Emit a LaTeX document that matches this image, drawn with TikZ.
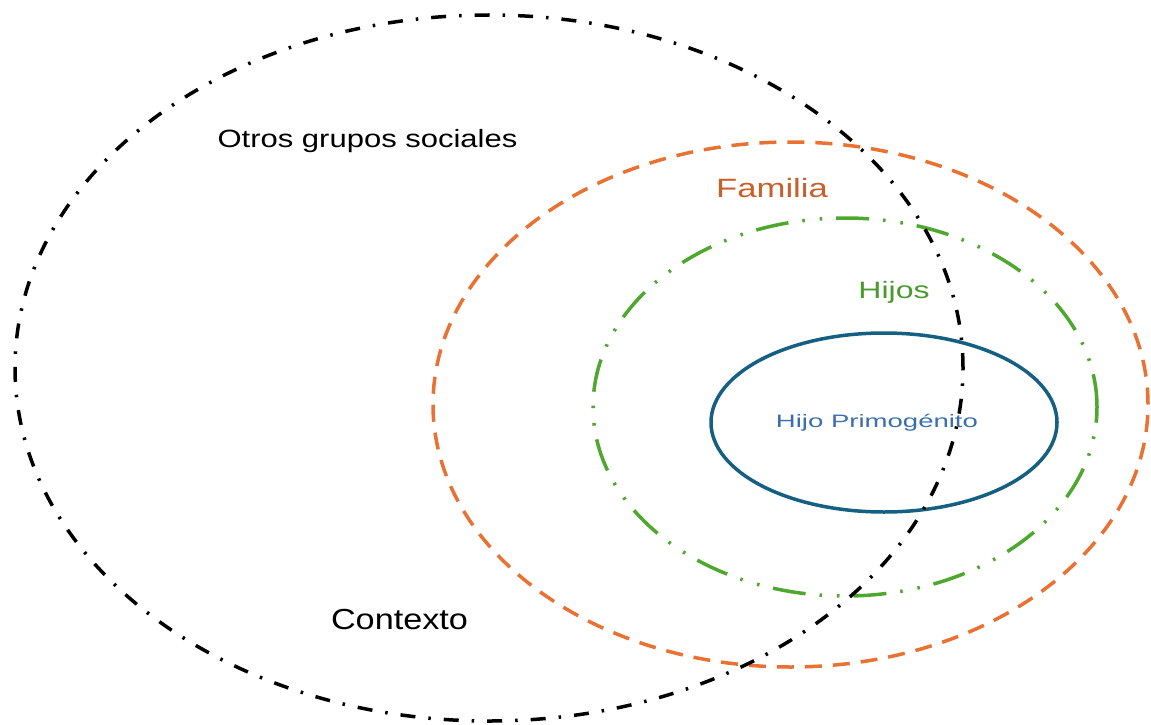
\documentclass[tikz,border=0pt]{standalone}
\usepackage{fontspec}
\setmainfont{Liberation Sans}
\definecolor{ctxblack}{HTML}{000000}
\definecolor{famorange}{HTML}{E97132}
\definecolor{famtext}{HTML}{C8602C}
\definecolor{hijgreen}{HTML}{4EA72E}
\definecolor{hijtext}{HTML}{4A9A30}
\definecolor{primblue}{HTML}{156082}
\definecolor{primtext}{HTML}{3A6EAE}
\tikzset{
  ring/.style={line width=3.5pt},
  ctxring/.style={ring, draw=ctxblack, dash pattern=on 15pt off 13pt on 2.5pt off 13pt},
  famring/.style={ring, draw=famorange, dash pattern=on 17pt off 11pt},
  hijring/.style={ring, draw=hijgreen, dash pattern=on 33pt off 14pt on 2.5pt off 15pt on 2.5pt off 14pt},
  primring/.style={ring, draw=primblue},
  lbl/.style={inner sep=0pt, anchor=base},
}
\begin{document}
\begin{tikzpicture}[x=1pt,y=-1pt]
\useasboundingbox (0,0) rectangle (1151,725);
\fill[white] (0,0) rectangle (1151,725);
% rings
\draw[famring] (790.5,404.5) ellipse [x radius=357.5pt, y radius=262.5pt];
\draw[hijring] (845,407) ellipse [x radius=252pt, y radius=189pt];
\draw[primring] (884,422.5) ellipse [x radius=173pt, y radius=89.5pt];
% labels
\node[lbl, text=black] (otros) at (367.5,147) {\fontsize{25}{30}\selectfont\scalebox{1.24}[1]{Otros grupos sociales}};
\node[lbl, text=famtext] (familia) at (772,197) {\fontsize{26.5}{32}\selectfont\scalebox{1.31}[1]{Familia}};
\node[lbl, text=hijtext] (hijos) at (894,298) {\fontsize{23.7}{28}\selectfont\scalebox{1.35}[1]{Hijos}};
\node[lbl, text=primtext] (primogenito) at (877,427) {\fontsize{18}{22}\selectfont\scalebox{1.53}[1]{Hijo Primogénito}};
\node[lbl, text=black] (contexto) at (399.5,629) {\fontsize{29}{34}\selectfont\scalebox{1.18}[1]{Contexto}};
% outer context ring on top
\draw[ctxring] (489,368) ellipse [x radius=474pt, y radius=353pt];
\end{tikzpicture}
\end{document}
